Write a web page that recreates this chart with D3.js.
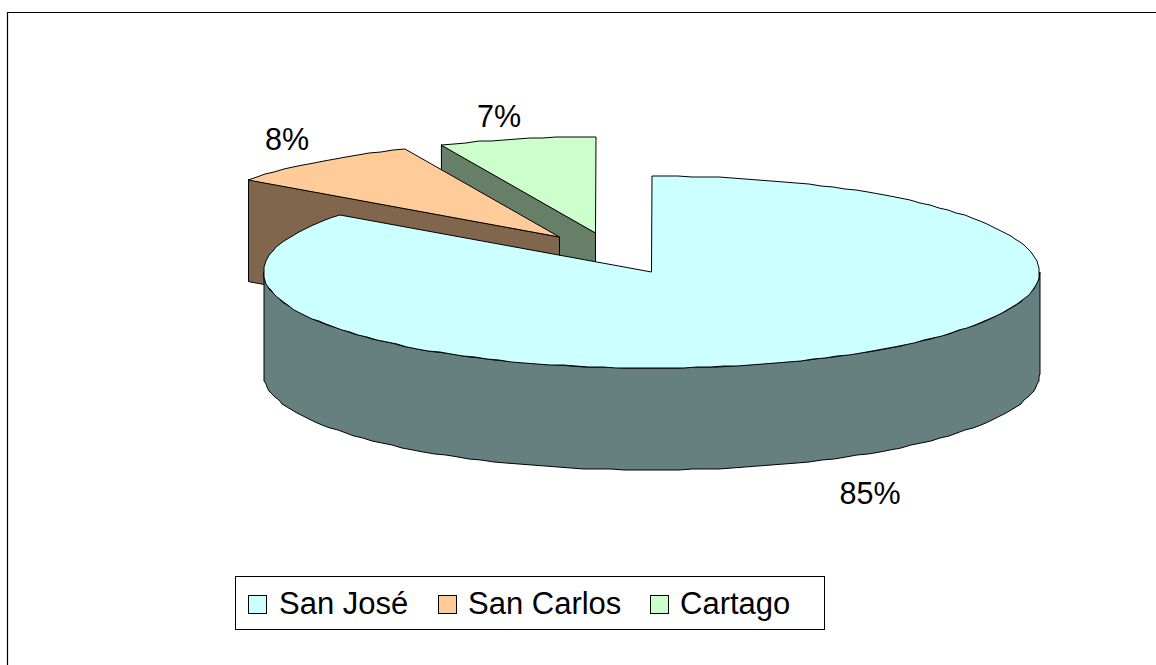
<!DOCTYPE html>
<html><head><meta charset="utf-8">
<script src="https://cdn.jsdelivr.net/npm/d3@7/dist/d3.min.js"></script>
<style>html,body{margin:0;padding:0;background:#fff}svg{display:block}text{font-family:"Liberation Sans",Arial,sans-serif;fill:#000}</style>
</head><body><svg id="c" width="1156" height="665"></svg>
<script>
const categories = ["San José", "San Carlos", "Cartago"];
const values = [85.2, 8.3, 6.5];
const topColors = ["#CCFFFF", "#FFCC99", "#CCFFCC"];
const sideColors = ["#667F7F", "#7F664C", "#667F66"];

const W = 1156, H = 665;
const cx = 651.5, cy = 272, rx = 388, ry = 96, depth = 102;
const explode = [[0, 0], [-92, -35], [-56, -39]];
const labelPos = [[870, 504], [287, 150], [499, 127]];
const svg = d3.select("#c");

// chart frame: only the top and left edges fall inside the picture
svg.append("path").attr("d", d3.line()([[7.5, H], [7.5, 12.5], [W, 12.5]]))
  .attr("fill", "none").attr("stroke", "#000").attr("stroke-width", 1.2);

const arcs = d3.pie().sort(null).value(d => d)(values);
const total = d3.sum(values);
const project = (i, a) => [cx + explode[i][0] + rx * Math.sin(a), cy + explode[i][1] - ry * Math.cos(a)];
const rimPts = (i, a0, a1) => {
  const n = Math.max(2, Math.ceil(Math.abs(a1 - a0) / (Math.PI / 90)));
  return d3.range(n + 1).map(k => {
    const p = project(i, a0 + (a1 - a0) * k / n);
    return [Math.round(p[0]), Math.round(p[1])];
  });
};
const line = d3.line();
const drawPoly = (pts, fill) => svg.append("path")
  .attr("d", line(pts) + "Z").attr("fill", fill)
  .attr("stroke", "#000").attr("stroke-width", 1).attr("stroke-linejoin", "round");

[2, 1, 0].forEach(i => {
  const { startAngle: a0, endAngle: a1 } = arcs[i];
  const apex = [cx + explode[i][0], cy + explode[i][1]];
  const down = p => [p[0], p[1] + depth];
  if (i === 0) {
    // front wall: rim from the right extreme round to the left extreme
    const rim = rimPts(0, Math.PI / 2, Math.min(a1, 3 * Math.PI / 2));
    drawPoly(rim.concat(rim.slice().reverse().map(down)), sideColors[0]);
  } else {
    const o = project(i, a0);
    drawPoly([o, apex, down(apex), down(o)], sideColors[i]);
  }
  drawPoly([apex].concat(rimPts(i, a0, a1)), topColors[i]);
});

arcs.forEach((d, i) => {
  svg.append("text").attr("x", labelPos[i][0]).attr("y", labelPos[i][1])
    .attr("text-anchor", "middle").attr("font-size", 30.5)
    .text(Math.round(d.value / total * 100) + "%");
});

// legend
const lg = svg.append("g");
lg.append("rect").attr("x", 235.5).attr("y", 576.5).attr("width", 589).attr("height", 53)
  .attr("fill", "#fff").attr("stroke", "#000");
const legendX = d3.scaleOrdinal().domain(categories).range([248, 438, 650]);
categories.forEach((c, i) => {
  const x = legendX(c);
  lg.append("rect").attr("x", x + .5).attr("y", 595.5).attr("width", 18).attr("height", 18)
    .attr("fill", topColors[i]).attr("stroke", "#000");
  lg.append("text").attr("x", x + 31 - (i ? 1 : 0)).attr("y", 614).attr("font-size", 31).text(c);
});
</script></body></html>
